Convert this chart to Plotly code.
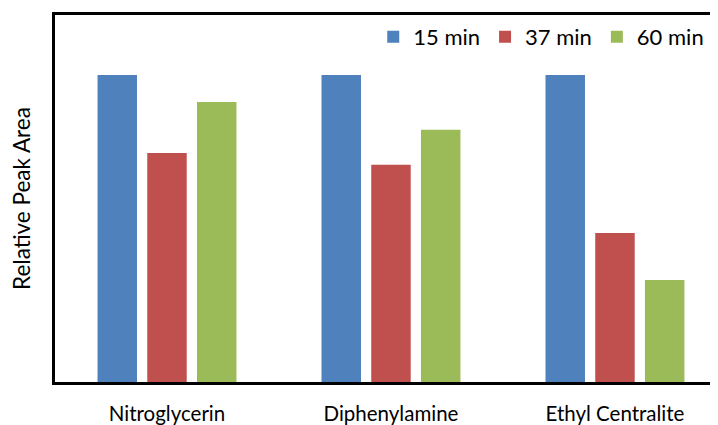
import plotly.graph_objects as go

categories = ["Nitroglycerin", "Diphenylamine", "Ethyl Centralite"]
series_names = ["15 min", "37 min", "60 min"]
values_15 = [1.0, 1.0, 1.0]
values_37 = [0.746, 0.707, 0.485]
values_60 = [0.912, 0.821, 0.332]
colors = ["#4F81BD", "#C0504D", "#9BBB59"]

fig = go.Figure()
for name, vals, col in zip(series_names, [values_15, values_37, values_60], colors):
    fig.add_trace(go.Bar(x=categories, y=vals, name=name,
                         marker=dict(color=col, line=dict(width=0))))

# page body has an 8px default margin: figure is sized/offset to compensate
fig.update_layout(
    width=710, height=417,
    margin=dict(l=47, r=0, t=7, b=43, autoexpand=False),
    paper_bgcolor="white", plot_bgcolor="white",
    barmode="group", bargap=0.334, bargroupgap=0.206,
    font=dict(family="Lato", color="#000000"),
    legend=dict(orientation="h", x=0.48, xanchor="left", y=0.94, yanchor="middle",
                font=dict(size=22, color="#000000"), bgcolor="rgba(0,0,0,0)",
                itemclick=False),
    xaxis=dict(range=[-0.5, 2.46], showline=True, linecolor="black", linewidth=2.5,
               mirror=True, showgrid=False, zeroline=False, ticks="",
               tickfont=dict(size=20.5, color="#000000"), ticklabelstandoff=12),
    yaxis=dict(range=[0, 1.195], showline=True, linecolor="black", linewidth=2.5,
               mirror=False, showgrid=False, zeroline=False, showticklabels=False,
               ticks="",
               title=dict(text="Relative Peak Area", font=dict(size=22.5, color="#000000"),
                          standoff=22)),
)

fig.write_html("out.html")
